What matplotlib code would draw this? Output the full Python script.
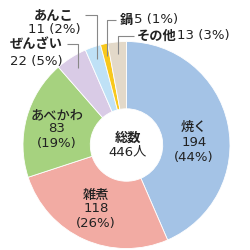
import matplotlib.pyplot as plt
import numpy as np

plt.rcParams['font.family'] = ['Noto Sans CJK JP', 'DejaVu Sans']

# data
labels = ['焼く', '雑煮', 'あべかわ', 'ぜんざい', 'あんこ', '鍋', 'その他']
counts = [194, 118, 83, 22, 11, 5, 13]
percents = [44, 26, 19, 5, 2, 1, 3]
colors = ['#a4c3e6', '#f2aba3', '#a6d27f', '#d9cbe6', '#bfe1f6', '#f8c81c', '#e3d9c9']
total_label = '総数'
total_unit = '人'

fig = plt.figure(figsize=(2.5, 2.5), dpi=100)
ax = fig.add_axes([0, 0, 1, 1])

# pie centre / radius in pixels (top-left origin)
CX, CY, R = 126.5, 145, 103.5


def px(x, y):
    return ((x - CX) / R, (CY - y) / R)


wedges, _ = ax.pie(
    counts,
    colors=colors,
    startangle=90,
    counterclock=False,
    radius=1,
    wedgeprops=dict(width=0.65, edgecolor='white', linewidth=0.6)
)
ax.set_xlim(px(0, 0)[0], px(250, 0)[0])
ax.set_ylim(px(0, 250)[1], px(0, 0)[1])
ax.axis('off')

FS_NAME = 9.5
FS_NUM = 9.5
NUM_FONT = ['DejaVu Sans', 'Noto Sans CJK JP']
txt = '#222222'

# labels inside the ring: (centre x, first line y, line pitch)
inner = {0: (194, 127, 15), 1: (96, 195, 14), 2: (57, 115, 14)}
for i, (x, y, step) in inner.items():
    ax.text(*px(x, y), labels[i], ha='center', va='center', fontsize=FS_NAME,
            color=txt, fontweight='medium')
    ax.text(*px(x, y + step), str(counts[i]), ha='center', va='center',
            fontsize=FS_NUM, color=txt, family=NUM_FONT)
    ax.text(*px(x, y + 2 * step), f'({percents[i]}%)', ha='center',
            va='center', fontsize=FS_NUM, color=txt, family=NUM_FONT)

# centre total
ax.text(*px(128, 138), total_label, ha='center', va='center',
        fontsize=FS_NAME, color=txt, fontweight='bold')
ax.text(*px(128, 152), f'{sum(counts)}{total_unit}', ha='center',
        va='center', fontsize=FS_NUM, color=txt, family=NUM_FONT)


def leader(i, y_lab, x_end, r=0.88):
    w = wedges[i]
    mid = np.deg2rad((w.theta1 + w.theta2) / 2)
    ex, ey = r * np.cos(mid), r * np.sin(mid)
    yl = px(0, y_lab)[1]
    xl = px(x_end, 0)[0]
    ax.plot([ex, ex, xl], [ey, yl, yl], color='#888888', lw=0.8,
            solid_capstyle='butt')


# two-line outer labels
ax.text(*px(54, 15), labels[4], ha='center', va='center', fontsize=FS_NAME,
        color=txt, fontweight='bold')
ax.text(*px(54, 29), f'{counts[4]} ({percents[4]}%)', ha='center',
        va='center', fontsize=FS_NUM, color=txt, family=NUM_FONT)
leader(4, 15, 85)

ax.text(*px(36, 44), labels[3], ha='center', va='center', fontsize=FS_NAME,
        color=txt, fontweight='bold')
ax.text(*px(36, 61), f'{counts[3]} ({percents[3]}%)', ha='center',
        va='center', fontsize=FS_NUM, color=txt, family=NUM_FONT)
leader(3, 44, 67)

# one-line outer labels
ax.text(*px(120, 20), labels[5], ha='left', va='center', fontsize=FS_NAME,
        color=txt, fontweight='bold')
ax.text(*px(134, 20), f'{counts[5]} ({percents[5]}%)', ha='left',
        va='center', fontsize=FS_NUM, color=txt, family=NUM_FONT)
leader(5, 20, 116)

ax.text(*px(137, 36), labels[6], ha='left', va='center', fontsize=FS_NAME,
        color=txt, fontweight='bold')
ax.text(*px(177, 36), f'{counts[6]} ({percents[6]}%)', ha='left',
        va='center', fontsize=FS_NUM, color=txt, family=NUM_FONT)
leader(6, 36, 134)

fig.savefig('out.png', dpi=100)
